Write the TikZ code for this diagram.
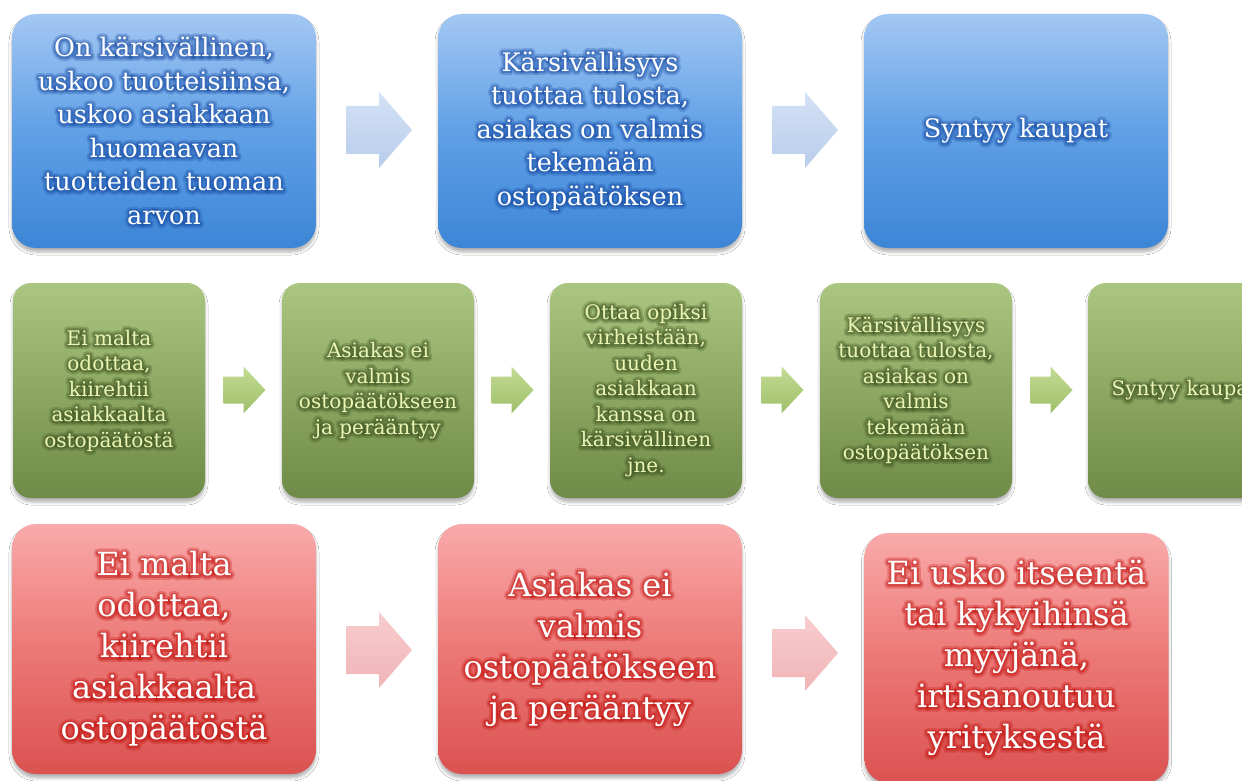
\documentclass[tikz,border=0pt]{standalone}
\usepackage{fontspec}
\setmainfont{DejaVu Serif}
\usetikzlibrary{shadows.blur}
\definecolor{bluetop}{RGB}{163,199,243}
\definecolor{bluemid}{RGB}{96,160,230}
\definecolor{bluebot}{RGB}{60,134,214}
\definecolor{greentop}{RGB}{171,198,128}
\definecolor{greenmid}{RGB}{140,168,98}
\definecolor{greenbot}{RGB}{110,139,71}
\definecolor{redtop}{RGB}{249,170,170}
\definecolor{redmid}{RGB}{236,120,118}
\definecolor{redbot}{RGB}{218,82,80}
\definecolor{greentext}{RGB}{234,245,180}
\definecolor{blueglow}{RGB}{20,70,160}
\definecolor{greenglow}{RGB}{60,80,30}
\definecolor{redglow}{RGB}{190,10,5}
\definecolor{barrowtop}{RGB}{212,226,245}
\definecolor{barrowbot}{RGB}{184,204,235}
\definecolor{garrowtop}{RGB}{194,219,146}
\definecolor{garrowbot}{RGB}{160,192,108}
\definecolor{rarrowtop}{RGB}{248,205,206}
\definecolor{rarrowbot}{RGB}{240,180,182}
\newcommand\glowon[1]{\special{pdf:literal direct 1 Tr #1 w 1 j}}
\newcommand\glowoff{\special{pdf:literal direct 0 Tr}}
\tikzset{
  box/.style={rectangle, inner sep=0pt, outer sep=0pt,
    blur shadow={shadow xshift=0pt, shadow yshift=-4pt, shadow blur radius=3pt, shadow opacity=30}},
  bigbox/.style={box, rounded corners=24pt, minimum width=304pt, minimum height=234pt},
  redbox/.style={box, rounded corners=24pt, minimum width=304pt, minimum height=250pt},
  smallbox/.style={box, rounded corners=18pt, minimum width=192pt, minimum height=215pt},
  blueshade/.style={top color=bluetop, bottom color=bluebot, middle color=bluemid},
  greenshade/.style={top color=greentop, bottom color=greenbot, middle color=greenmid},
  redshade/.style={top color=redtop, bottom color=redbot, middle color=redmid},
  bluetxt/.style={align=center, inner sep=0pt, font=\fontsize{25.5}{33.5}\selectfont},
  greentxt/.style={align=center, inner sep=0pt, font=\fontsize{20}{25.5}\selectfont},
  redtxt/.style={align=center, inner sep=0pt, font=\fontsize{32}{41}\selectfont},
  glowA/.style={opacity=0.25},
  glowB/.style={opacity=0.4},
  bigarrow/.pic={
    \path[pic actions] (-33,-24) -- (0,-24) -- (0,-38) -- (33,0) -- (0,38) -- (0,24) -- (-33,24) -- cycle;
  },
  smallarrow/.pic={
    \path[pic actions] (-21,-13.5) -- (-1,-13.5) -- (-1,-23.5) -- (21,0) -- (-1,23.5) -- (-1,13.5) -- (-21,13.5) -- cycle;
  },
  arrowshadow/.style={blur shadow={shadow xshift=0pt, shadow yshift=-2pt, shadow blur radius=2.5pt, shadow opacity=25}},
  barrow/.style={top color=barrowtop, bottom color=barrowbot, arrowshadow},
  garrow/.style={top color=garrowtop, bottom color=garrowbot, arrowshadow},
  rarrow/.style={top color=rarrowtop, bottom color=rarrowbot, arrowshadow},
}
% #1 box style, #2 shade, #3 text style, #4 text colour, #5 glow colour, #6 name, #7 position, #8 text
\newcommand\mkbox[8]{%
  \node[#1, #2] (#6) at (#7) {};
  \node[#3, text=#5, glowA] (#6ga) at (#6.center) {\glowon{8}#8\glowoff};
  \node[#3, text=#5, glowB] (#6gb) at (#6.center) {\glowon{4}#8\glowoff};
  \node[#3, text=#4] (#6t) at (#6.center) {#8};
}
\begin{document}
\begin{tikzpicture}[x=1pt, y=-1pt]
\useasboundingbox (0,0) rectangle (1242,781);
\clip (0,0) rectangle (1242,781);
\fill[white] (0,0) rectangle (1242,781);

% blue row
\mkbox{bigbox}{blueshade}{bluetxt}{white}{blueglow}{b1}{164,131}{On kärsivällinen,\\ uskoo tuotteisiinsa,\\ uskoo asiakkaan\\ huomaavan\\ tuotteiden tuoman\\ arvon}
\mkbox{bigbox}{blueshade}{bluetxt}{white}{blueglow}{b2}{590,131}{Kärsivällisyys\\ tuottaa tulosta,\\ asiakas on valmis\\ tekemään\\ ostopäätöksen}
\mkbox{bigbox}{blueshade}{bluetxt}{white}{blueglow}{b3}{1016,131}{Syntyy kaupat}
\pic[barrow] (ba1) at (379,130) {bigarrow};
\pic[barrow] (ba2) at (805,130) {bigarrow};

% green row
\mkbox{smallbox}{greenshade}{greentxt}{greentext}{greenglow}{g1}{109,390.5}{Ei malta\\ odottaa,\\ kiirehtii\\ asiakkaalta\\ ostopäätöstä}
\mkbox{smallbox}{greenshade}{greentxt}{greentext}{greenglow}{g2}{378,390.5}{Asiakas ei\\ valmis\\ ostopäätökseen\\ ja perääntyy}
\mkbox{smallbox}{greenshade}{greentxt}{greentext}{greenglow}{g3}{646,390.5}{Ottaa opiksi\\ virheistään,\\ uuden\\ asiakkaan\\ kanssa on\\ kärsivällinen\\ jne.}
\mkbox{smallbox}{greenshade}{greentxt}{greentext}{greenglow}{g4}{916,390.5}{Kärsivällisyys\\ tuottaa tulosta,\\ asiakas on\\ valmis\\ tekemään\\ ostopäätöksen}
\mkbox{smallbox}{greenshade}{greentxt}{greentext}{greenglow}{g5}{1184,390.5}{Syntyy kaupat}
\pic[garrow] (ga1) at (244.5,390) {smallarrow};
\pic[garrow] (ga2) at (512.5,390) {smallarrow};
\pic[garrow] (ga3) at (782.5,390) {smallarrow};
\pic[garrow] (ga4) at (1051.5,390) {smallarrow};

% red row
\mkbox{redbox}{redshade}{redtxt}{white}{redglow}{r1}{164,649}{Ei malta\\ odottaa,\\ kiirehtii\\ asiakkaalta\\ ostopäätöstä}
\mkbox{redbox}{redshade}{redtxt}{white}{redglow}{r2}{590,649}{Asiakas ei\\ valmis\\ ostopäätökseen\\ ja perääntyy}
\mkbox{redbox}{redshade}{redtxt}{white}{redglow}{r3}{1016.5,658}{Ei usko itseentä\\ tai kykyihinsä\\ myyjänä,\\ irtisanoutuu\\ yrityksestä}
\pic[rarrow] (ra1) at (379,650) {bigarrow};
\pic[rarrow] (ra2) at (805,653) {bigarrow};
\end{tikzpicture}
\end{document}
